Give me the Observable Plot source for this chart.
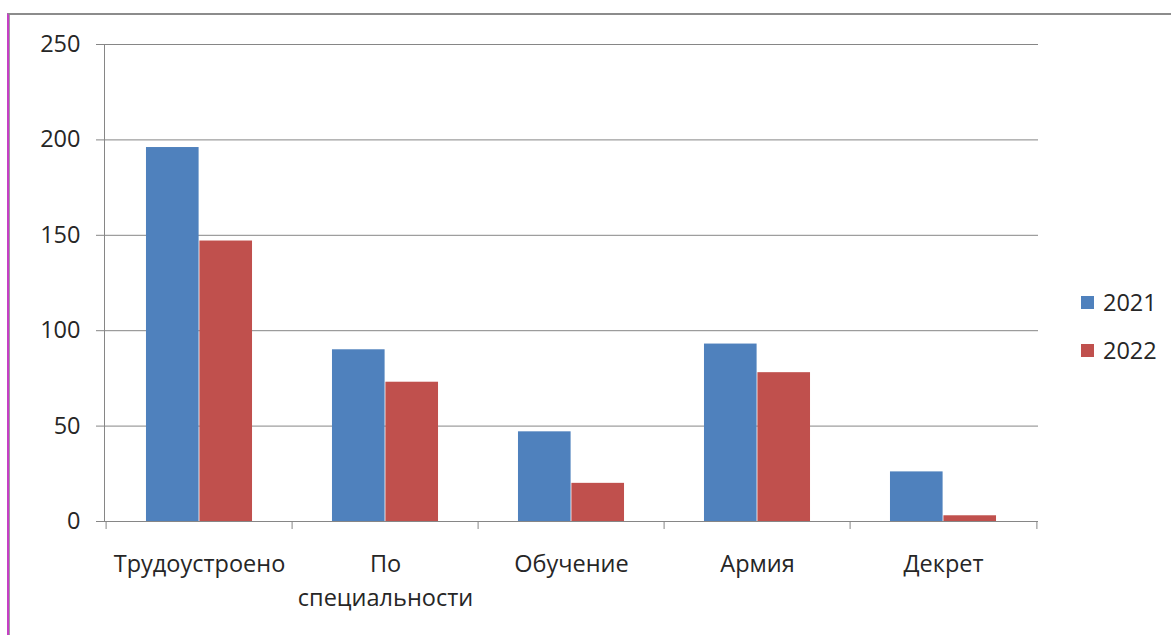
<!DOCTYPE html>
<html>
<head>
<meta charset="utf-8">
<script src="https://cdn.jsdelivr.net/npm/d3@7"></script>
<script src="https://cdn.jsdelivr.net/npm/@observablehq/plot@0.6"></script>
<style>
  html, body { margin: 0; padding: 0; background: #fff; }
  body { width: 1171px; height: 635px; position: relative; overflow: hidden; font-family: "Open Sans", sans-serif; }
  #frame { position: absolute; left: 7px; top: 13px; right: 0; bottom: 0; border-top: 2px solid #8c8c8c; border-left: 2px solid #c53fc5; }
  #frame-inner { position: absolute; left: 9px; top: 15px; bottom: 0; width: 1px; background: #a0a0a0; }
  #chart { position: absolute; left: 0; top: 0; }
  .legend { position: absolute; left: 1081px; font-size: 23.5px; color: #262626; display: flex; align-items: center; line-height: 1; }
  .legend .sw { width: 13px; height: 13px; margin-right: 9px; }
</style>
</head>
<body>
<div id="frame"></div>
<div id="frame-inner"></div>
<div id="chart"></div>
<div id="legend"></div>
<script>
const categories = ["Трудоустроено", "По специальности", "Обучение", "Армия", "Декрет"];
const years = ["2021", "2022"];
const values2021 = [196, 90, 47, 93, 26];
const values2022 = [147, 73, 20, 78, 3];
const yTicks = [0, 50, 100, 150, 200, 250];
const colors = ["#4F81BD", "#C0504D"];

const W = 1171, H = 635, mL = 104, mR = 133, mT = 44, mB = 114;
const bw = (W - mL - mR) / categories.length;
const barW = bw * 0.286;
const pad = (bw - 2 * barW) / 2;
const gray = "#868686";
const fs = 23.5;

const labelFormat = d => d === "По специальности" ? "По\nспециальности" : d;

const chart = Plot.plot({
  width: W,
  height: H,
  marginLeft: mL,
  marginRight: mR,
  marginTop: mT,
  marginBottom: mB,
  style: { fontFamily: "Open Sans, sans-serif", fontSize: fs + "px", color: "#262626", background: "transparent" },
  x: { type: "band", domain: categories, padding: 0 },
  y: { domain: [0, 250] },
  marks: [
    Plot.ruleY(yTicks, { stroke: gray, strokeWidth: 1 }),
    Plot.frame({ anchor: "left", stroke: gray }),
    Plot.ruleX(categories, { x: d => d, y1: 0, y2: 0, insetBottom: -8, dx: -bw / 2, stroke: gray }),
    Plot.ruleX(categories.slice(-1), { x: d => d, y1: 0, y2: 0, insetBottom: -8, dx: bw / 2, stroke: gray }),
    Plot.barY(categories, { x: d => d, y: (d, i) => values2021[i], fill: colors[0], insetLeft: pad, insetRight: pad + barW }),
    Plot.barY(categories, { x: d => d, y: (d, i) => values2022[i], fill: colors[1], insetLeft: pad + barW, insetRight: pad }),
    Plot.axisY({ ticks: yTicks, tickSize: 8, tickPadding: 16, stroke: gray, fill: "#262626", fontSize: fs, label: null }),
    Plot.axisX({ tickSize: 0, tickPadding: 27, tickFormat: labelFormat, fill: "#262626", fontSize: fs, lineHeight: 1.42, label: null })
  ]
});
document.getElementById("chart").appendChild(chart);

const legend = document.getElementById("legend");
years.forEach((yr, i) => {
  const item = document.createElement("div");
  item.className = "legend";
  item.style.top = (291 + i * 48) + "px";
  item.innerHTML = `<div class="sw" style="background:${colors[i]}"></div><span>${yr}</span>`;
  legend.appendChild(item);
});
</script>
</body>
</html>
